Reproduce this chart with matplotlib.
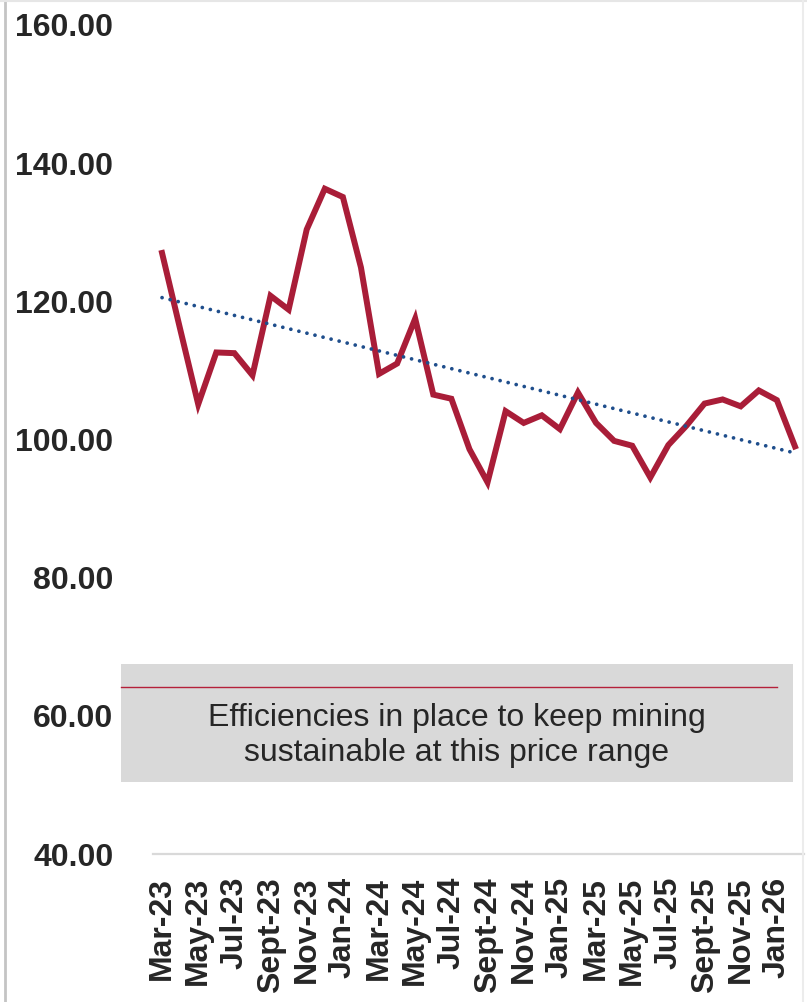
import numpy as np
import matplotlib
matplotlib.use("Agg")
import matplotlib.pyplot as plt
from matplotlib.lines import Line2D
from matplotlib.patches import Rectangle
from matplotlib.font_manager import FontProperties

# Monthly price index, Mar-23 .. Feb-26
months = ["Mar-23", "Apr-23", "May-23", "Jun-23", "Jul-23", "Aug-23", "Sept-23", "Oct-23",
          "Nov-23", "Dec-23", "Jan-24", "Feb-24", "Mar-24", "Apr-24", "May-24", "Jun-24",
          "Jul-24", "Aug-24", "Sept-24", "Oct-24", "Nov-24", "Dec-24", "Jan-25", "Feb-25",
          "Mar-25", "Apr-25", "May-25", "Jun-25", "Jul-25", "Aug-25", "Sept-25", "Oct-25",
          "Nov-25", "Dec-25", "Jan-26", "Feb-26"]
prices = [127.0, 116.0, 105.1, 112.6, 112.5, 109.3, 120.8, 118.8,
          130.4, 136.3, 135.1, 124.9, 109.5, 111.0, 117.5, 106.5,
          105.9, 98.6, 93.8, 104.1, 102.4, 103.5, 101.5, 106.8,
          102.4, 99.8, 99.1, 94.5, 99.2, 102.0, 105.2, 105.8,
          104.8, 107.1, 105.7, 99.0]
y_ticks = [40, 60, 80, 100, 120, 140, 160]
band_note = "Efficiencies in place to keep mining\nsustainable at this price range"

W, H = 807, 1002
fig = plt.figure(figsize=(W / 100, H / 100), dpi=100)
fig.patch.set_facecolor("white")

left, right, top, bottom = 153, 804, 25, 854
ax = fig.add_axes([left / W, 1 - bottom / H, (right - left) / W, (bottom - top) / H])
ax.set_facecolor("none")

x = np.arange(len(prices))
red = "#A91D38"
blue = "#1F4E8C"

ax.plot(x, prices, color=red, lw=4.3, solid_joinstyle="miter", zorder=3)

# Linear trend
slope, intercept = np.polyfit(x, prices, 1)
ax.plot(x, slope * x + intercept, color=blue, lw=2.7, linestyle=(0, (0.01, 2.2)),
        dash_capstyle="round", zorder=4)

ax.set_xlim(-0.5, len(prices) - 0.5)
ax.set_ylim(40, 160)

ax.set_yticks(y_ticks)
ax.set_yticklabels([f"{v:.2f}" for v in y_ticks])
ax.set_xticks(x[::2])
ax.set_xticklabels(months[::2], rotation=90, va="top", ha="center")

lbl_font = FontProperties(family="Liberation Sans", weight="bold", size=23)
for t in ax.get_yticklabels() + ax.get_xticklabels():
    t.set_fontproperties(lbl_font)
    t.set_color("#262626")

ax.tick_params(axis="y", length=0, pad=28.5)
ax.tick_params(axis="x", length=0, pad=16.5)
for s in ["left", "right", "top"]:
    ax.spines[s].set_visible(False)
ax.spines["bottom"].set_color("#d9d9d9")
ax.spines["bottom"].set_linewidth(1.6)

# Shaded note band with cost line
fig.add_artist(Rectangle((121 / W, 1 - 781.5 / H), (793 - 121) / W, (781.5 - 664) / H,
                         transform=fig.transFigure, facecolor="#d9d9d9", edgecolor="none",
                         zorder=1))
fig.add_artist(Line2D([121 / W, 777 / W], [1 - 687 / H, 1 - 687 / H],
                      transform=fig.transFigure, color="#B5203A", lw=1.0, zorder=2))
fig.text(457 / W, 1 - 735.5 / H, band_note, ha="center", va="center",
         family="Liberation Sans", size=23, color="#262626", linespacing=1.22, zorder=3)

# Frame edges
fig.add_artist(Line2D([4.5 / W, 4.5 / W], [0, 1], transform=fig.transFigure,
                      color="#c4c4c4", lw=2.0))
fig.add_artist(Line2D([0, 1], [1 - 1 / H, 1 - 1 / H], transform=fig.transFigure,
                      color="#e6e6e6", lw=1.5))
fig.add_artist(Line2D([802.5 / W, 802.5 / W], [0, 1], transform=fig.transFigure,
                      color="#ececec", lw=1.5))

fig.savefig("out.png", dpi=100, facecolor="white")
